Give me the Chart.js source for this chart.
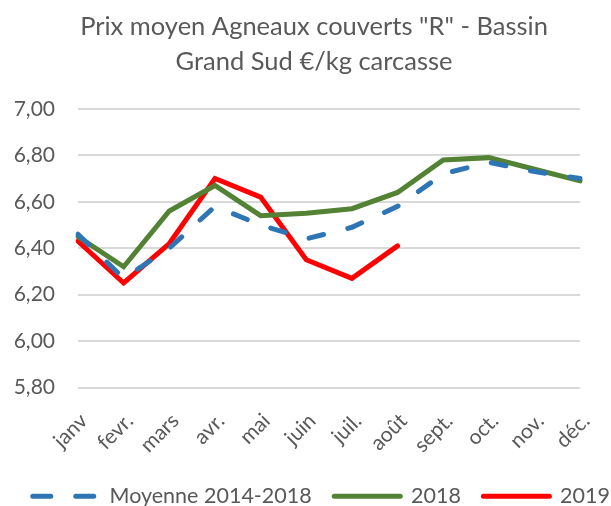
<!DOCTYPE html>
<html><head><meta charset="utf-8">
<script src="https://cdn.jsdelivr.net/npm/chart.js@4/dist/chart.umd.min.js"></script>
<style>html,body{margin:0;padding:0;background:#fff;}#wrap{width:611px;height:506px;}</style>
</head><body><div id="wrap"><canvas id="c" width="611" height="506"></canvas></div>
<script>
const categories = ["janv","fevr.","mars","avr.","mai","juin","juil.","août","sept.","oct.","nov.","déc."];
const moyenne = [6.46,6.27,6.40,6.58,6.50,6.44,6.49,6.58,6.72,6.77,6.73,6.70];
const y2018 = [6.45,6.32,6.56,6.67,6.54,6.55,6.57,6.64,6.78,6.79,6.74,6.69];
const y2019 = [6.43,6.25,6.42,6.70,6.62,6.35,6.27,6.41];
const yTicks = [5.8,6.0,6.2,6.4,6.6,6.8,7.0];
const titleLines = ['Prix moyen Agneaux couverts "R" - Bassin','Grand Sud €/kg carcasse'];

const FONT = 'Lato, "Open Sans", sans-serif';
const GREY = '#595959';
new Chart(document.getElementById('c'), {
  type: 'line',
  data: {
    labels: categories,
    datasets: [
      {label:'Moyenne 2014-2018', data: moyenne, borderColor:'#2E75B6', backgroundColor:'#2E75B6', borderWidth:5, borderDash:[15,25], borderCapStyle:'round', pointRadius:0, tension:0, pointStyle:'line'},
      {label:'2018', data: y2018, borderColor:'#548235', backgroundColor:'#548235', borderWidth:5, borderCapStyle:'round', pointRadius:0, tension:0, pointStyle:'line'},
      {label:'2019', data: y2019, borderColor:'#FF0000', backgroundColor:'#FF0000', borderWidth:5, borderCapStyle:'round', pointRadius:0, tension:0, pointStyle:'line'}
    ]
  },
  options: {
    responsive:false, animation:false,
    layout:{padding:{left:12,right:-5,top:9,bottom:-11}},
    plugins:{
      title:{display:true, text:titleLines, color:GREY, font:{family:FONT,size:25.5,weight:'normal',lineHeight:1.37}, padding:{top:0,bottom:30}},
      legend:{position:'bottom', align:'end', labels:{usePointStyle:true, pointStyleWidth:66, boxWidth:66, color:GREY, font:{family:FONT,size:21.5}, padding:6,
        generateLabels:(chart)=>{
          const items = Chart.defaults.plugins.legend.labels.generateLabels(chart);
          items.forEach((it,i)=>{ if(i===0) it.lineDash=[18,25]; it.lineCap='round'; if(i<items.length-1) it.text = it.text + '   '; });
          return items;
        }}},
      tooltip:{enabled:false}
    },
    scales:{
      x:{grid:{display:false}, border:{display:false}, afterFit:(ax)=>{ax.height=92;},
         ticks:{color:GREY, font:{family:FONT,size:21}, minRotation:45, maxRotation:45, padding:13, labelOffset:6}},
      y:{min:5.8, max:7.0, afterBuildTicks:(ax)=>{ax.ticks = yTicks.map(v=>({value:v}));}, afterFit:(ax)=>{ax.width=66;},
         grid:{color:'#D9D9D9', lineWidth:2, drawTicks:false}, border:{display:false},
         ticks:{color:GREY, font:{family:FONT,size:21}, padding:23, callback:(v)=>Number(v).toFixed(2).replace('.',',')}},
      yRight:{position:'right', display:true, grid:{display:false}, border:{display:false}, ticks:{display:false}, afterFit:(ax)=>{ax.width=11;}}
    }
  }
});
</script></body></html>
